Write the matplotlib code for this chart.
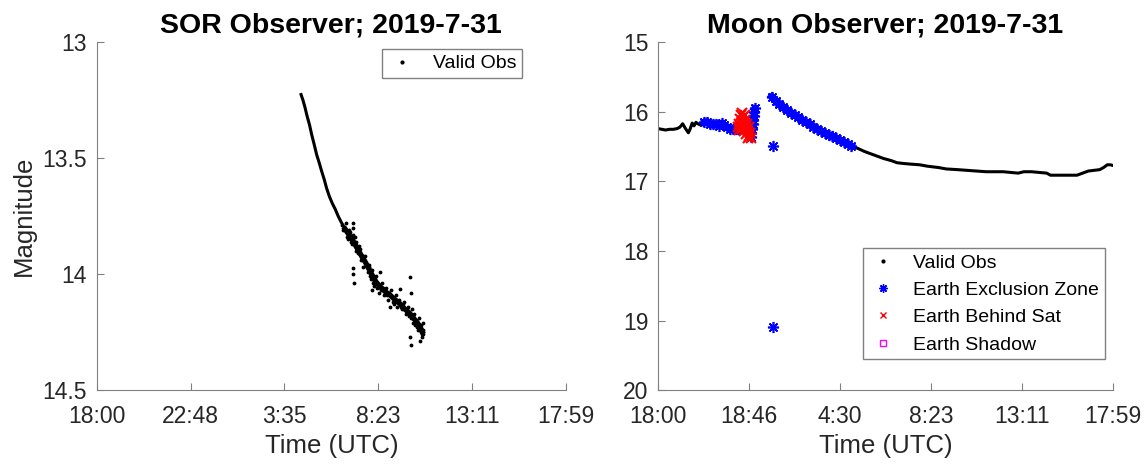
import matplotlib
matplotlib.use("Agg")
import matplotlib.pyplot as plt
from matplotlib.lines import Line2D

plt.rcParams["font.family"] = ["Liberation Sans", "DejaVu Sans"]

# time axis: hours after 18:00 on the day before
tick_pos = [0, 4.8, 9.6, 14.4, 19.2, 24]
sor_tick_labels = ["18:00", "22:48", "3:35", "8:23", "13:11", "17:59"]
moon_tick_labels = ["18:00", "18:46", "4:30", "8:23", "13:11", "17:59"]

# SOR observer: main track and the scattered points around it
sor_x = [10.45, 10.55, 10.65, 10.75, 10.88, 11.0, 11.12, 11.25, 11.38, 11.5,
         11.63, 11.76, 11.9, 12.05, 12.2, 12.35, 12.5, 12.7, 12.9, 13.1,
         13.3, 13.5, 13.75, 14.0, 14.25, 14.5, 14.75, 15.0, 15.25, 15.5,
         15.75, 16.0, 16.2, 16.4, 16.55, 16.65]
sor_y = [13.225, 13.25, 13.28, 13.315, 13.355, 13.40, 13.44, 13.485, 13.52, 13.555,
         13.59, 13.63, 13.665, 13.695, 13.72, 13.75, 13.775, 13.805, 13.83, 13.855,
         13.885, 13.915, 13.95, 13.99, 14.03, 14.055, 14.075, 14.09, 14.11, 14.127,
         14.15, 14.168, 14.19, 14.21, 14.23, 14.248]
sor_scatter_x = [12.6, 12.75, 12.85, 12.95, 13.05, 13.13, 13.13, 13.13, 13.15, 13.13,
                 13.13, 13.15, 13.25, 13.35, 13.4, 13.55, 13.64, 13.7, 13.8, 13.9,
                 14.0, 14.07, 14.1, 14.2, 14.3, 14.35, 14.49, 14.45, 14.6, 14.7,
                 14.8, 14.9, 15.0, 15.05, 15.15, 15.3, 15.35, 15.45, 15.51, 15.6,
                 15.7, 15.8, 15.9, 16.03, 16.08, 16.05, 16.1, 16.15, 16.03, 16.08,
                 16.25, 16.3, 16.35, 16.45, 16.5, 16.54, 16.6, 16.65, 16.7, 16.62, 16.68,
                 12.55, 12.65, 12.8, 12.9, 13.0, 13.2, 13.28, 13.45, 13.5, 13.6,
                 13.75, 13.85, 13.95, 14.05, 14.15, 14.25, 14.4, 14.55, 14.65, 14.85,
                 14.95, 15.1, 15.2, 15.4, 15.55, 15.65, 15.85, 15.95, 16.18, 16.4,
                 16.58, 16.7]
sor_scatter_y = [13.81, 13.78, 13.85, 13.82, 13.87, 13.78, 13.80, 13.83, 13.86, 13.975,
                 14.00, 14.04, 13.86, 13.91, 13.88, 13.93, 13.97, 13.92, 13.97, 13.96,
                 14.01, 14.07, 13.98, 14.05, 14.01, 14.06, 13.99, 14.08, 14.04, 14.09,
                 14.06, 14.11, 14.14, 14.07, 14.12, 14.09, 14.14, 14.11, 14.065, 14.15,
                 14.12, 14.17, 14.14, 14.013, 14.08, 14.19, 14.15, 14.21, 14.27, 14.305,
                 14.17, 14.22, 14.20, 14.24, 14.19, 14.29, 14.22, 14.27, 14.24, 14.26, 14.21,
                 13.79, 13.80, 13.84, 13.81, 13.86, 13.84, 13.90, 13.89, 13.94, 13.92,
                 13.96, 13.99, 13.97, 14.02, 14.04, 14.02, 14.05, 14.07, 14.06, 14.09,
                 14.08, 14.10, 14.13, 14.12, 14.14, 14.13, 14.16, 14.18, 14.18, 14.23,
                 14.25, 14.26]

# Moon observer: valid observations (before and after the exclusion zone)
moon_valid1_x = [0, 0.2, 0.4, 0.6, 0.8, 1.0, 1.15, 1.3, 1.45, 1.6, 1.7, 1.8, 1.9, 2.0,
                 2.1, 2.25, 2.4]
moon_valid1_y = [16.24, 16.25, 16.26, 16.25, 16.25, 16.24, 16.22, 16.17, 16.24, 16.30,
                 16.24, 16.16, 16.20, 16.15, 16.17, 16.19, 16.16]
moon_valid2_x = [10.2, 10.5, 10.9, 11.3, 11.6, 11.9, 12.3, 12.6, 12.9, 13.3, 13.8, 14.2,
                 14.8, 15.2, 15.8, 16.3, 16.8, 17.3, 17.8, 18.2, 18.6, 19.0, 19.3, 19.7,
                 20.1, 20.5, 20.7, 21.1, 21.6, 22.1, 22.4, 22.7, 23.0, 23.3, 23.5, 23.7,
                 23.85, 24.0]
moon_valid2_y = [16.49, 16.52, 16.57, 16.61, 16.64, 16.67, 16.70, 16.73, 16.74, 16.75,
                 16.76, 16.78, 16.80, 16.82, 16.83, 16.84, 16.85, 16.86, 16.86, 16.86,
                 16.87, 16.88, 16.86, 16.86, 16.87, 16.88, 16.91, 16.91, 16.91, 16.91,
                 16.88, 16.85, 16.84, 16.83, 16.80, 16.76, 16.76, 16.77]

# Earth exclusion zone, three runs plus two lone points
excl1_x = [2.45, 2.6, 2.75, 2.9, 3.05, 3.2, 3.35, 3.5, 3.65, 3.8, 3.95, 4.1, 4.2]
excl1_y = [16.15, 16.14, 16.17, 16.18, 16.17, 16.20, 16.16, 16.19, 16.22, 16.24,
           16.25, 16.24, 16.25]
excl2_x = [4.9, 4.93, 4.96, 4.99, 5.02, 5.05, 5.08, 5.11]
excl2_y = [16.36, 16.30, 16.24, 16.18, 16.12, 16.06, 16.00, 15.95]
excl3_x = [6.0, 6.2, 6.4, 6.6, 6.8, 7.0, 7.2, 7.4, 7.6, 7.8, 8.0, 8.2, 8.4, 8.6,
           8.8, 9.0, 9.2, 9.4, 9.6, 9.8, 10.0, 10.2]
excl3_y = [15.78, 15.84, 15.89, 15.93, 15.97, 16.01, 16.04, 16.08, 16.11, 16.15,
           16.18, 16.21, 16.24, 16.27, 16.30, 16.33, 16.35, 16.38, 16.41, 16.43,
           16.46, 16.49]
excl_lone_x = [6.08, 6.08]
excl_lone_y = [16.49, 19.09]

# Earth behind satellite
behind_x = [4.2, 4.25, 4.28, 4.32, 4.35, 4.38, 4.42, 4.45, 4.48, 4.52, 4.55, 4.58,
            4.62, 4.65, 4.68, 4.72, 4.75, 4.78, 4.82, 4.86, 4.9, 4.45, 4.6]
behind_y = [16.22, 16.18, 16.26, 16.10, 16.20, 16.05, 16.15, 16.25, 16.08, 16.18,
            16.28, 16.12, 16.22, 16.32, 16.18, 16.38, 16.28, 16.22, 16.35, 16.30,
            16.38, 16.02, 16.05]

axis_grey = "#808080"
text_grey = "#262626"

fig = plt.figure(figsize=(11.46, 4.66), dpi=100)
ax1 = fig.add_axes([0.0844, 0.163, 0.4095, 0.746])
ax2 = fig.add_axes([0.5742, 0.163, 0.397, 0.746])

for ax in (ax1, ax2):
    for side in ("top", "right"):
        ax.spines[side].set_visible(False)
    for side in ("left", "bottom"):
        ax.spines[side].set_color(axis_grey)
    ax.tick_params(direction="in", length=5, color=axis_grey,
                   labelcolor=text_grey, labelsize=16.5)
    ax.tick_params(axis="x", pad=11)
    ax.tick_params(axis="y", pad=7)
    ax.set_xlim(0, 24)
    ax.set_xticks(tick_pos)
    ax.set_xlabel("Time (UTC)", fontsize=18.5, color=text_grey, labelpad=4)

# left panel
ax1.plot(sor_x, sor_y, color="black", lw=2.2)
ax1.plot(sor_x[17:], sor_y[17:], color="black", lw=3.8)
ax1.plot(sor_scatter_x, sor_scatter_y, ".", color="black", ms=3.5)
ax1.set_xticklabels(sor_tick_labels)
ax1.set_ylim(14.5, 13)
ax1.set_yticks([13, 13.5, 14, 14.5])
ax1.set_yticklabels(["13", "13.5", "14", "14.5"])
ax1.set_ylabel("Magnitude", fontsize=18.5, color=text_grey, labelpad=5)
ax1.set_title("SOR Observer; 2019-7-31", fontsize=20.5, fontweight="bold", pad=7)
h_valid = Line2D([], [], ls="none", marker=".", color="black", ms=4)
leg1 = ax1.legend([h_valid], ["Valid Obs"], loc="upper right",
                  bbox_to_anchor=(0.906, 0.981), borderaxespad=0, fontsize=14,
                  fancybox=False, framealpha=1, edgecolor=axis_grey,
                  handlelength=1.5, handletextpad=0.8, borderpad=0.3)
leg1.get_frame().set_linewidth(1)

# right panel
ax2.plot(moon_valid1_x, moon_valid1_y, color="black", lw=2.2)
ax2.plot(moon_valid2_x, moon_valid2_y, color="black", lw=2.2)
for ex, ey in ((excl1_x, excl1_y), (excl2_x, excl2_y), (excl3_x, excl3_y)):
    ax2.plot(ex, ey, color="blue", lw=5, marker=(8, 2, 0), ms=8, mew=1.2)
ax2.plot(excl_lone_x, excl_lone_y, ls="none", marker=(8, 2, 0), color="blue",
         ms=8, mew=1.2)
ax2.plot(behind_x, behind_y, ls="none", marker="x", color="red", ms=7, mew=1.5)
ax2.set_xticklabels(moon_tick_labels)
ax2.set_ylim(20, 15)
ax2.set_yticks([15, 16, 17, 18, 19, 20])
ax2.set_title("Moon Observer; 2019-7-31", fontsize=20.5, fontweight="bold", pad=7)
handles = [
    Line2D([], [], ls="none", marker=".", color="black", ms=4),
    Line2D([], [], ls="none", marker=(8, 2, 0), color="blue", ms=6, mew=1),
    Line2D([], [], ls="none", marker="x", color="red", ms=5, mew=1),
    Line2D([], [], ls="none", marker="s", mfc="none", mec="magenta", ms=5, mew=1),
]
labels = ["Valid Obs", "Earth Exclusion Zone", "Earth Behind Sat", "Earth Shadow"]
leg2 = ax2.legend(handles, labels, loc="lower right",
                  bbox_to_anchor=(0.982, 0.088), borderaxespad=0, fontsize=14,
                  fancybox=False, framealpha=1, edgecolor=axis_grey,
                  handlelength=1.5, handletextpad=0.8, borderpad=0.3,
                  labelspacing=0.5)
leg2.get_frame().set_linewidth(1)

fig.savefig("out.png", dpi=100)
